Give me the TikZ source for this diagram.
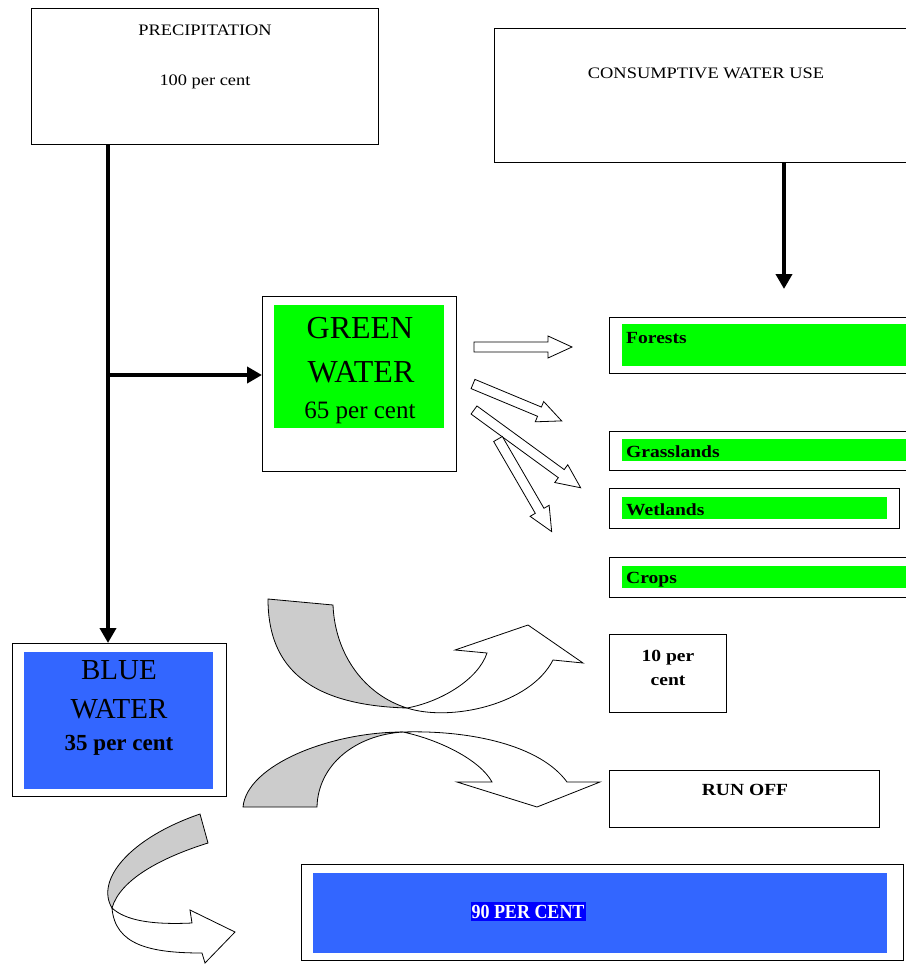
\documentclass[tikz,border=0pt]{standalone}
\usepackage{fontspec}
\setmainfont{Liberation Serif}
\newfontfamily\widefont[FakeStretch=1.15]{Liberation Serif}
\newfontfamily\narrowfont[FakeStretch=0.9]{Liberation Serif}
\usetikzlibrary{arrows.meta}

\definecolor{leafgreen}{HTML}{00FF00}
\definecolor{waterblue}{HTML}{3366FF}
\definecolor{deepblue}{HTML}{0000FF}

\tikzset{
  box/.style={draw, line width=1.2pt, inner sep=0pt, anchor=north west},
  fillbox/.style={inner sep=0pt, anchor=north west},
  txt/.style={inner sep=0pt, anchor=base},
  flow/.style={line width=4pt, -{Triangle[length=15pt,width=16pt]}},
  hollow/.style={draw, line width=0.8pt, fill=white},
  backside/.style={draw, line width=0.8pt, fill=gray!40},
}

% straight hollow arrow: start, angle, length
\newcommand{\hollowarrow}[3]{%
  \begin{scope}[shift={#1}, rotate=#2]
    \draw[hollow] (0,-5) -- ({#3-24},-5) -- ({#3-24},-11) -- (#3,0)
      -- ({#3-24},11) -- ({#3-24},5) -- (0,5) -- cycle;
  \end{scope}}

\begin{document}
\begin{tikzpicture}[x=1pt, y=-1pt]

\useasboundingbox (0,0) rectangle (905,966);

% top boxes
\node[box, minimum width=347pt, minimum height=136pt] (prec) at (31,8) {};
\node[txt, font=\widefont\fontsize{16}{19}\selectfont] (prectitle) at (205,36) {PRECIPITATION};
\node[txt, font=\widefont\fontsize{16}{19}\selectfont] (precval) at (205,85) {100 per cent};

\node[box, minimum width=420pt, minimum height=134pt] (cons) at (494,28) {};
\node[txt, font=\widefont\fontsize{16}{19}\selectfont] (constitle) at (706,78) {CONSUMPTIVE WATER USE};

% green water
\node[box, minimum width=194pt, minimum height=175pt] (green) at (262,296) {};
\node[fillbox, fill=leafgreen, minimum width=170pt, minimum height=123pt] (greenfill) at (274,305) {};
\node[txt, font=\fontsize{32}{36}\selectfont] (greenA) at (360,338) {GREEN};
\node[txt, font=\fontsize{32}{36}\selectfont] (greenB) at (361,382) {WATER};
\node[txt, font=\fontsize{25}{28}\selectfont] (greenC) at (360,418) {65 per cent};

% blue water
\node[box, minimum width=214pt, minimum height=153pt] (blue) at (12,643) {};
\node[fillbox, fill=waterblue, minimum width=189pt, minimum height=137pt] (bluefill) at (24,652) {};
\node[txt, font=\fontsize{29}{32}\selectfont] (blueA) at (119,679) {BLUE};
\node[txt, font=\fontsize{29}{32}\selectfont] (blueB) at (119,718) {WATER};
\node[txt, font=\bfseries\fontsize{23}{26}\selectfont] (blueC) at (119,750) {35 per cent};

% uses
\node[box, minimum width=300pt, minimum height=56pt] (forest) at (609,317) {};
\node[fillbox, fill=leafgreen, minimum width=290pt, minimum height=42pt] (forestfill) at (622,324) {};
\node[txt, anchor=base west, font=\widefont\bfseries\fontsize{17}{20}\selectfont] (forests) at (626,343) {Forests};

\node[box, minimum width=300pt, minimum height=39pt] (grass) at (609,431) {};
\node[fillbox, fill=leafgreen, minimum width=290pt, minimum height=22pt] (grassfill) at (622,439) {};
\node[txt, anchor=base west, font=\widefont\bfseries\fontsize{17}{20}\selectfont] (grasslands) at (626,457) {Grasslands};

\node[box, minimum width=290pt, minimum height=40pt] (wet) at (609,488) {};
\node[fillbox, fill=leafgreen, minimum width=265pt, minimum height=22pt] (wetfill) at (622,497) {};
\node[txt, anchor=base west, font=\widefont\bfseries\fontsize{17}{20}\selectfont] (wetlands) at (626,515) {Wetlands};

\node[box, minimum width=300pt, minimum height=40pt] (crop) at (609,557) {};
\node[fillbox, fill=leafgreen, minimum width=290pt, minimum height=22pt] (cropfill) at (622,566) {};
\node[txt, anchor=base west, font=\widefont\bfseries\fontsize{17}{20}\selectfont] (crops) at (626,583) {Crops};

\node[box, minimum width=117pt, minimum height=78pt] (ten) at (609,634) {};
\node[txt, font=\widefont\bfseries\fontsize{17}{20}\selectfont] (tenA) at (668,661) {10 per};
\node[txt, font=\widefont\bfseries\fontsize{17}{20}\selectfont] (tenB) at (668,685) {cent};

\node[box, minimum width=270pt, minimum height=57pt] (runoff) at (609,770) {};
\node[txt, font=\widefont\bfseries\fontsize{17}{20}\selectfont] (runofftxt) at (745,795) {RUN OFF};

\node[box, minimum width=602pt, minimum height=96pt] (ninety) at (301,864) {};
\node[fillbox, fill=waterblue, minimum width=574pt, minimum height=80pt] (ninetyfill) at (313,873) {};
\node[txt, fill=deepblue, text=white, inner xsep=1pt, inner ysep=3pt, font=\narrowfont\bfseries\fontsize{20}{23}\selectfont] (ninetytxt) at (528,918) {90 PER CENT};

% black flows
\coordinate (split) at (108,375);
\coordinate (usetip) at (784,289);
\draw[flow] (prec.south -| split) -- (blue.north -| split);
\draw[flow] (split) -- (split -| green.west);
\draw[flow] (cons.south -| usetip) -- (usetip);

% hollow arrows out of green water
\hollowarrow{(474,347)}{0}{98}
\hollowarrow{(473,384)}{-22.6}{96}
\hollowarrow{(474,410)}{-36.1}{132}
\hollowarrow{(498,439)}{-59.9}{107}

% twisted arrows
\draw[backside] (268,599) .. controls (268,660) and (300,705) .. (407,708)
  .. controls (365,695) and (335,655) .. (333,605) -- cycle;
\draw[hollow] (407,708) .. controls (450,722) and (530,705) .. (553,660)
  -- (583,663) -- (528,625) -- (455,650) -- (487,653)
  .. controls (478,680) and (440,702) .. (407,708) -- cycle;

\draw[backside] (243,807) .. controls (247,765) and (330,732) .. (403,732)
  .. controls (355,735) and (318,765) .. (317,807) -- cycle;
\draw[hollow] (403,732) .. controls (470,730) and (540,745) .. (567,782)
  -- (600,782) -- (537,807) -- (457,782) -- (492,782)
  .. controls (480,760) and (440,740) .. (403,732) -- cycle;

\draw[backside] (200,814) .. controls (130,838) and (95,880) .. (112,908)
  .. controls (120,880) and (160,858) .. (208,843) -- cycle;
\draw[hollow] (112,908) .. controls (115,945) and (150,953) .. (202,953)
  -- (205,963) -- (235,932) -- (190,910) -- (192,923)
  .. controls (150,925) and (125,920) .. (112,908) -- cycle;

\end{tikzpicture}
\end{document}
